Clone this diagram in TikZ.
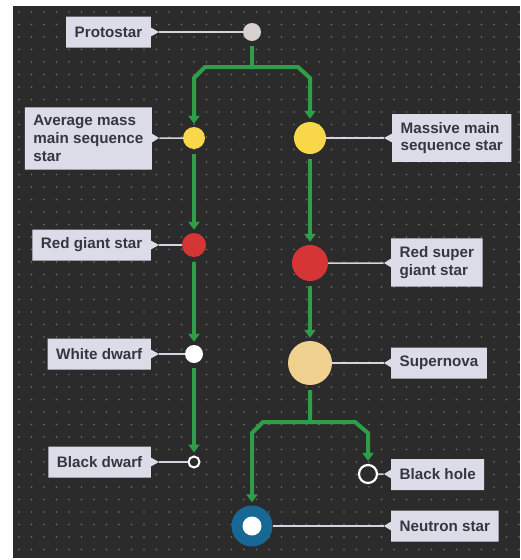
\documentclass[tikz,border=0pt]{standalone}
\usepackage{fontspec}
\setmainfont{Liberation Sans}
\usetikzlibrary{shapes.callouts}
\usetikzlibrary{arrows.meta}

\definecolor{bgDark}{HTML}{2B2B2C}
\definecolor{gridDot}{HTML}{707070}
\definecolor{flowGreen}{HTML}{2E9E48}
\definecolor{lblFill}{HTML}{DCDCE8}
\definecolor{lblText}{HTML}{36363E}
\definecolor{leadGrey}{HTML}{D4D4DC}
\definecolor{protoGrey}{HTML}{D8CFCF}
\definecolor{starYellow}{HTML}{F8D748}
\definecolor{starRed}{HTML}{D63535}
\definecolor{novaTan}{HTML}{EFD08E}
\definecolor{nsBlue}{HTML}{176895}

\begin{document}
\begin{tikzpicture}[x=1pt,y=-1pt,
    lbl/.style={rectangle callout, fill=lblFill, text=lblText, align=left,
        font=\fontsize{15.2}{17.8}\selectfont\bfseries,
        inner xsep=8.5pt, inner ysep=8pt, minimum height=31pt,
        callout pointer width=9pt},
    orb/.style={circle, inner sep=0pt},
    flow/.style={draw=flowGreen, line width=4pt, -{Triangle[width=11pt,length=8pt]},
        shorten <=5pt, shorten >=3pt},
    lead/.style={draw=leadGrey, line width=1.5pt}]
            \useasboundingbox (0,0) rectangle (520,560);
            \fill[white] (0,0) rectangle (520,560);
            \fill[bgDark] (13,6) rectangle (520,558);
            \foreach \i in {0,...,40} {
                \foreach \j in {0,...,43} {
                    \fill[gridDot] (19+12.5*\i,12+12.5*\j) circle (0.8);
                }
            }
            
            \node[orb, fill=protoGrey, minimum size=18pt] (proto) at (252,32) {};
            \node[orb, fill=starYellow, minimum size=22pt] (avg) at (194,138) {};
            \node[orb, fill=starYellow, minimum size=32pt] (massive) at (310,138) {};
            \node[orb, fill=starRed, minimum size=24pt] (redgiant) at (194,245) {};
            \node[orb, fill=starRed, minimum size=36pt] (supergiant) at (310,263) {};
            \node[orb, fill=white, minimum size=18pt] (whitedwarf) at (194,354) {};
            \node[orb, fill=novaTan, minimum size=44pt] (supernova) at (310,363) {};
            \node[orb, draw=white, line width=2pt, fill=bgDark, minimum size=11pt] (blackdwarf) at (194,462) {};
            \node[orb, draw=white, line width=2.2pt, fill=bgDark, minimum size=18pt] (blackhole) at (368,474) {};
            \node[orb, fill=nsBlue, minimum size=41pt] (neutron) at (252,526) {};
            \node[orb, fill=white, minimum size=19pt] (neutroncore) at (neutron) {};
            
            % branches
            \coordinate (split1) at (252,67);
            \coordinate (split2) at (310,422);
            \draw[flow] (proto) -- (split1) -- ++(-47,0) -- ++(-11,11) -- (avg);
            \draw[flow, shorten <=0pt] (split1) -- ++(46,0) -- ++(12,11) -- (massive);
            \draw[flow] (avg) -- (redgiant);
            \draw[flow] (redgiant) -- (whitedwarf);
            \draw[flow] (whitedwarf) -- (blackdwarf);
            \draw[flow] (massive) -- (supergiant);
            \draw[flow] (supergiant) -- (supernova);
            \draw[flow] (supernova) -- (split2) -- ++(-47,0) -- ++(-11,11) -- (neutron);
            \draw[flow, shorten <=0pt] (split2) -- ++(45,0) -- ++(13,11) -- (blackhole);
            
            % labels
            \node[lbl, anchor=east, callout absolute pointer={(159,32)}] (protolbl) at (151,32) {Protostar};
            \node[lbl, anchor=east, callout absolute pointer={(159,138)}] (avglbl) at (152,138.5) {Average mass\\main sequence\\star};
            \node[lbl, anchor=west, callout absolute pointer={(384,138)}] (massivelbl) at (392,138) {Massive main\\sequence star};
            \node[lbl, anchor=east, callout absolute pointer={(159,245)}] (redgiantlbl) at (151,245) {Red giant star};
            \node[lbl, anchor=west, callout absolute pointer={(384,263)}] (supergiantlbl) at (391,262.5) {Red super\\giant star};
            \node[lbl, anchor=east, callout absolute pointer={(159,354)}] (whitedwarflbl) at (151,354) {White dwarf};
            \node[lbl, anchor=west, callout absolute pointer={(384,363)}] (supernovalbl) at (391,363) {Supernova};
            \node[lbl, anchor=east, callout absolute pointer={(159,462)}] (blackdwarflbl) at (151,462) {Black dwarf};
            \node[lbl, anchor=west, callout absolute pointer={(384,474)}] (blackholelbl) at (391,474.5) {Black hole};
            \node[lbl, anchor=west, callout absolute pointer={(384,526)}] (neutronlbl) at (391,526) {Neutron star};
            
            \draw[lead] (protolbl.pointer) -- (proto);
            \draw[lead] (avglbl.pointer) -- (avg);
            \draw[lead] (massivelbl.pointer) -- (massive);
            \draw[lead] (redgiantlbl.pointer) -- (redgiant);
            \draw[lead] (supergiantlbl.pointer) -- (supergiant);
            \draw[lead] (whitedwarflbl.pointer) -- (whitedwarf);
            \draw[lead] (supernovalbl.pointer) -- (supernova);
            \draw[lead] (blackdwarflbl.pointer) -- (blackdwarf);
            \draw[lead] (blackholelbl.pointer) -- (blackhole);
            \draw[lead] (neutronlbl.pointer) -- (neutron);
        \end{tikzpicture}
\end{document}
